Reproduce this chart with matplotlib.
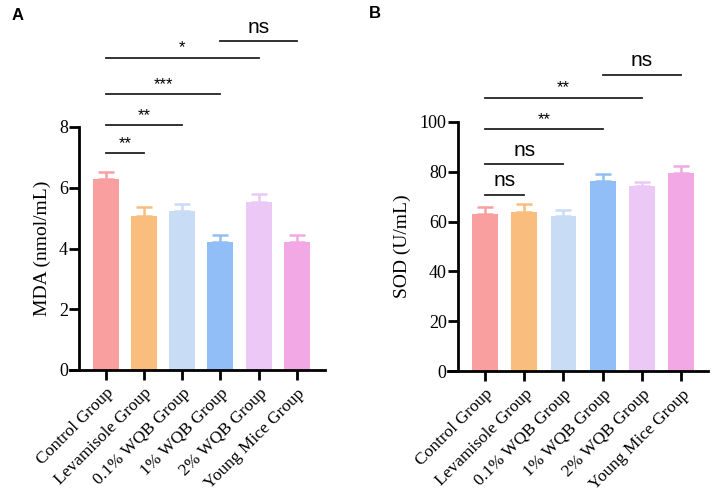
import matplotlib
matplotlib.use("Agg")
import matplotlib.pyplot as plt
import numpy as np

groups = ["Control Group", "Levamisole Group", "0.1% WQB Group",
          "1% WQB Group", "2% WQB Group", "Young Mice Group"]
colors = ["#FA9FA0", "#F9BD7D", "#C8DCF6", "#91BEF6", "#EBC8F5", "#F2A8E4"]

mda_mean = [6.28, 5.07, 5.23, 4.21, 5.53, 4.21]
mda_err = [0.23, 0.29, 0.25, 0.24, 0.27, 0.23]
sod_mean = [62.9, 63.9, 62.2, 76.3, 74.3, 79.5]
sod_err = [3.0, 3.3, 2.3, 2.8, 1.6, 2.8]

# (group i, group j, y, label)
mda_sig = [(0, 1, 7.14, "**"), (0, 2, 8.05, "**"), (0, 3, 9.08, "***"),
           (0, 4, 10.27, "*"), (3, 5, 10.83, "ns")]
sod_sig = [(0, 1, 70.8, "ns"), (0, 2, 83.1, "ns"), (0, 3, 97.1, "**"),
           (0, 4, 109.8, "**"), (3, 5, 118.9, "ns")]

W, H = 714, 499
fig = plt.figure(figsize=(W / 100, H / 100), dpi=100)

serif = ["Liberation Serif", "DejaVu Serif"]
sans = ["Liberation Sans", "DejaVu Sans"]


def panel(rect, means, errs, ymax, ystep, ylabel, sigs, xlim, spinex, barw):
    ax = fig.add_axes(rect)
    x = np.arange(len(groups))
    ax.bar(x, means, width=barw, color=colors, zorder=2)
    for xi, m, e, c in zip(x, means, errs, colors):
        ax.errorbar([xi], [m], yerr=[[0], [e]], fmt="none", ecolor=c,
                    elinewidth=1.8, capsize=5.5, capthick=1.8, zorder=1,
                    clip_on=False)
    ax.set_xlim(*xlim)
    ax.set_ylim(0, ymax)
    for s in ["top", "right"]:
        ax.spines[s].set_visible(False)
    ax.spines["left"].set_position(("data", spinex))
    ax.spines["left"].set_linewidth(2)
    ax.spines["bottom"].set_linewidth(2)
    ax.set_yticks(np.arange(0, ymax + 0.001, ystep))
    ax.set_yticklabels([f"{v:g}" for v in np.arange(0, ymax + 0.001, ystep)],
                       family=serif, fontsize=13)
    ax.set_xticks(x)
    ax.set_xticklabels(groups, rotation=45, ha="right", rotation_mode="anchor",
                       family=serif, fontsize=12.5)
    ax.tick_params(axis="both", width=2, length=7, direction="out")
    ax.tick_params(axis="x", pad=4)
    ax.tick_params(axis="y", pad=1)
    ax.set_ylabel(ylabel, family=serif, fontsize=14, labelpad=6)
    for i, j, y, lab in sigs:
        ax.plot([i, j], [y, y], color="#222222", lw=1.3, clip_on=False)
        if lab == "ns":
            ax.text((i + j) / 2, y + ymax * 0.018, lab, ha="center",
                    va="bottom", family=sans, fontsize=15, clip_on=False)
        else:
            ax.text((i + j) / 2, y + ymax * 0.01, lab, ha="center",
                    va="bottom", family=sans, fontsize=12,
                    clip_on=False)
    return ax


axA = panel([70 / W, 1 - 370 / H, (325 - 70) / W, (370 - 127) / H],
            mda_mean, mda_err, 8, 2, "MDA (nmol/mL)", mda_sig,
            (-0.93, 5.73), -0.69, 0.68)
axB = panel([448 / W, 1 - 371 / H, (708 - 448) / W, (371 - 122) / H],
            sod_mean, sod_err, 100, 20, "SOD (U/mL)", sod_sig,
            (-0.94, 5.68), -0.69, 0.66)

fig.text(12 / W, 1 - 15 / H, "A", family=sans, fontweight="bold",
         fontsize=12, va="center", ha="left")
fig.text(369 / W, 1 - 14 / H, "B", family=sans, fontweight="bold",
         fontsize=12, va="center", ha="left")

fig.savefig("out.png", dpi=100)
